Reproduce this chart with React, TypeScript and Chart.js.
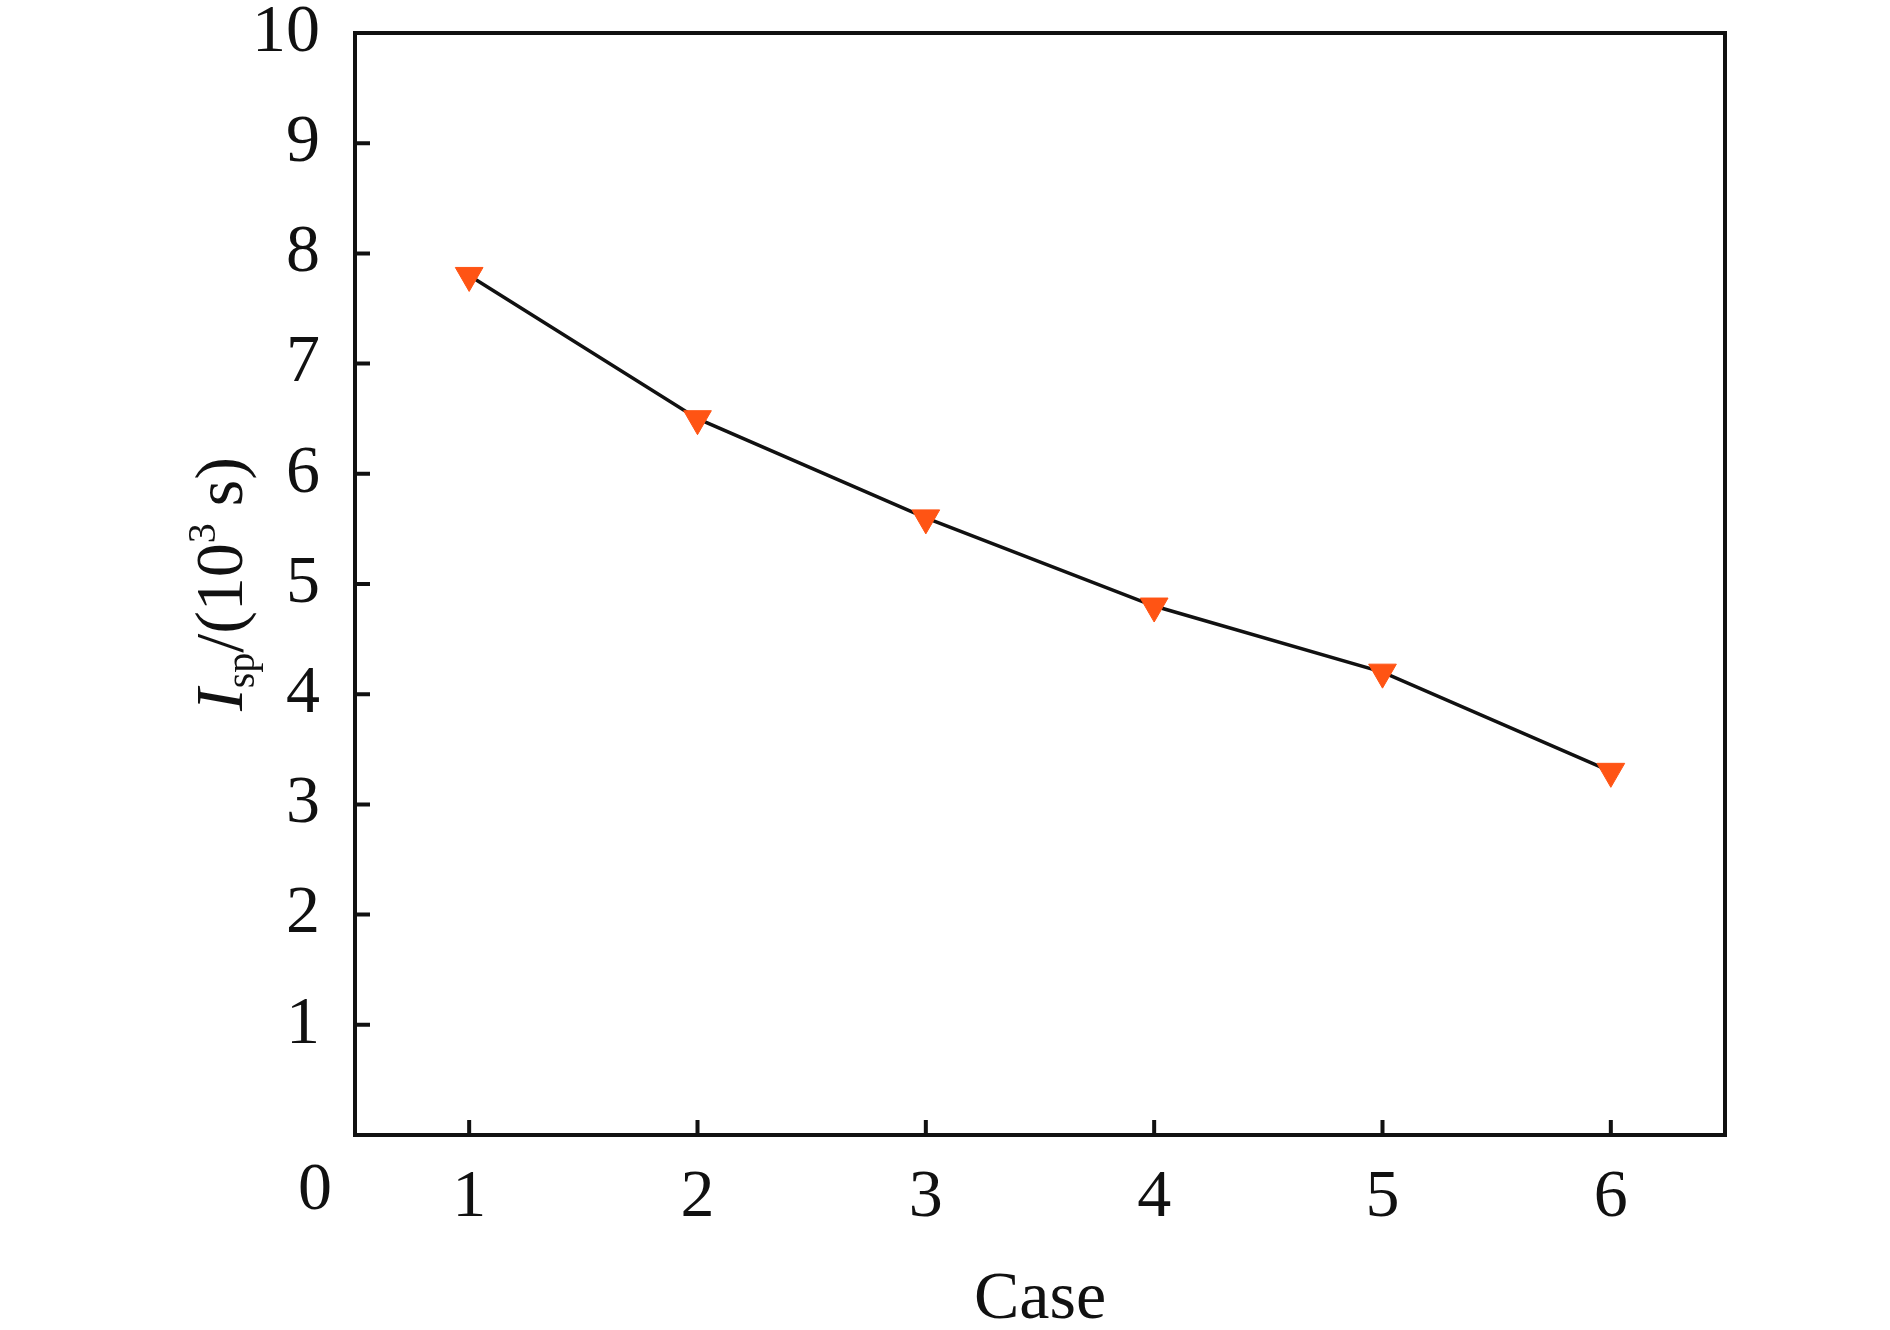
import { useEffect, useRef } from 'react';
import { Chart, registerables, type Plugin } from 'chart.js';

Chart.register(...registerables);

const SERIF = "'Liberation Serif', 'Times New Roman', serif";

const cases = [1, 2, 3, 4, 5, 6];
const isp = [7.8, 6.5, 5.6, 4.8, 4.2, 3.3];
const yTicks = [0, 1, 2, 3, 4, 5, 6, 7, 8, 9, 10];

// frame, inward ticks, origin "0" and the two axis titles
const decor: Plugin<'line'> = {
  id: 'decor',
  afterDraw(chart) {
    const { ctx, chartArea: a, scales } = chart;
    const x = scales.x;
    const y = scales.y;
    ctx.save();
    ctx.strokeStyle = '#111';
    ctx.lineWidth = 4;
    ctx.beginPath();
    for (const v of cases) {
      const px = x.getPixelForValue(v);
      ctx.moveTo(px, a.bottom);
      ctx.lineTo(px, a.bottom - 15);
    }
    for (const v of yTicks.slice(1, -1)) {
      const py = y.getPixelForValue(v);
      ctx.moveTo(a.left, py);
      ctx.lineTo(a.left + 15, py);
    }
    ctx.stroke();
    ctx.strokeRect(a.left, a.top, a.right - a.left, a.bottom - a.top);

    ctx.fillStyle = '#111';
    ctx.font = `68px ${SERIF}`;
    ctx.textAlign = 'center';
    ctx.textBaseline = 'middle';
    ctx.fillText('0', a.left - 40, a.bottom + 56);

    ctx.textBaseline = 'alphabetic';
    ctx.fillText('Case', (a.left + a.right) / 2, a.bottom + 183);

    // rotated y title: I_sp/(10^3 s)
    const parts = [
      { t: 'I', font: `italic 68px ${SERIF}`, dy: 0 },
      { t: 'sp', font: `40px ${SERIF}`, dy: 12 },
      { t: '/(10', font: `68px ${SERIF}`, dy: 0 },
      { t: '3', font: `40px ${SERIF}`, dy: -27 },
      { t: ' s)', font: `68px ${SERIF}`, dy: 0 },
    ];
    let total = 0;
    for (const p of parts) {
      ctx.font = p.font;
      total += ctx.measureText(p.t).width;
    }
    ctx.translate(a.left - 113, (a.top + a.bottom) / 2);
    ctx.rotate(-Math.PI / 2);
    ctx.textAlign = 'left';
    let cx = -total / 2;
    for (const p of parts) {
      ctx.font = p.font;
      ctx.fillText(p.t, cx, p.dy);
      cx += ctx.measureText(p.t).width;
    }
    ctx.restore();
  },
};

export default function App() {
  const canvas = useRef<HTMLCanvasElement>(null);
  useEffect(() => {
    if (!canvas.current) return;
    const chart = new Chart(canvas.current, {
      type: 'line',
      data: {
        datasets: [
          {
            data: cases.map((c, i) => ({ x: c, y: isp[i] })),
            borderColor: '#111',
            borderWidth: 3.5,
            tension: 0,
            pointStyle: 'triangle',
            pointRotation: 180,
            pointRadius: 16,
            pointBackgroundColor: '#ff5414',
            pointBorderColor: '#ff5414',
            pointBorderWidth: 1,
          },
        ],
      },
      options: {
        animation: false,
        responsive: true,
        maintainAspectRatio: false,
        layout: { padding: { left: 0, top: 33, right: 165, bottom: 0 } },
        plugins: { legend: { display: false }, tooltip: { enabled: false } },
        scales: {
          x: {
            type: 'linear',
            min: 0.5,
            max: 6.5,
            grid: { display: false },
            border: { display: false },
            afterBuildTicks: (s) => {
              s.ticks = cases.map((v) => ({ value: v }));
            },
            afterFit: (s) => {
              s.height = 195;
              s.paddingLeft = 0;
              s.paddingRight = 0;
            },
            ticks: {
              color: '#111',
              padding: 14,
              maxRotation: 0,
              font: { family: SERIF, size: 68 },
            },
          },
          y: {
            min: 0,
            max: 10,
            grid: { display: false },
            border: { display: false },
            afterBuildTicks: (s) => {
              s.ticks = yTicks.map((v) => ({ value: v }));
            },
            afterFit: (s) => {
              s.width = 355;
              s.paddingTop = 0;
              s.paddingBottom = 0;
            },
            ticks: {
              color: '#111',
              padding: 27,
              font: { family: SERIF, size: 68 },
              callback: (v) => (v === 0 ? '' : String(v)),
            },
          },
        },
      },
      plugins: [decor],
    });
    return () => chart.destroy();
  }, []);
  return (
    <div style={{ position: 'fixed', left: 0, top: 0, width: 1890, height: 1330, background: '#fff' }}>
      <canvas ref={canvas} />
    </div>
  );
}
